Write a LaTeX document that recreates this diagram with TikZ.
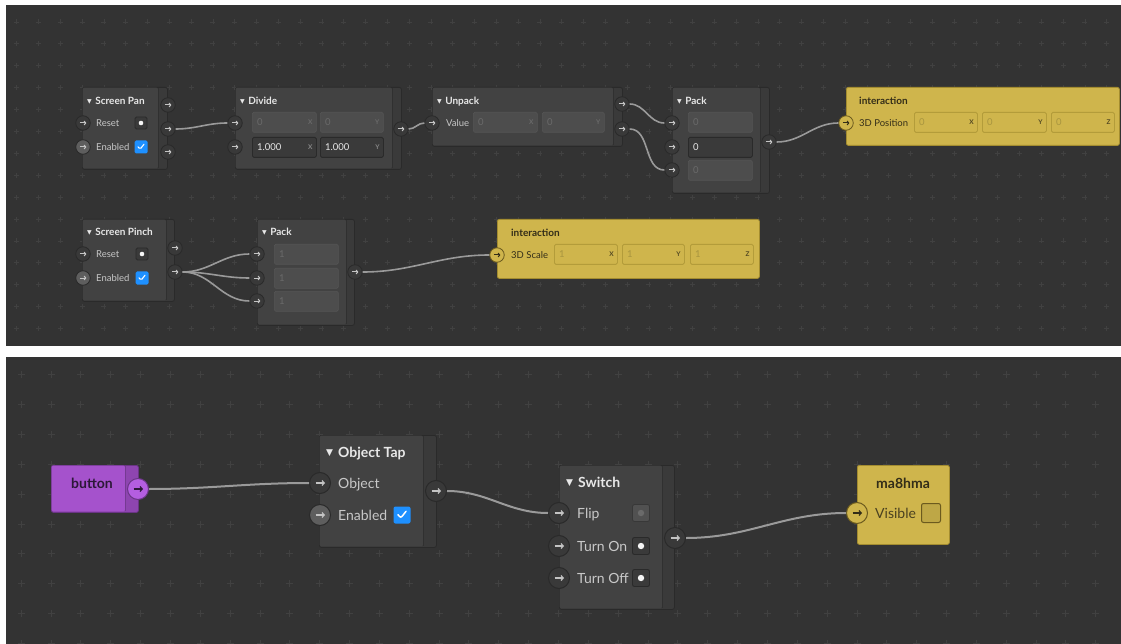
\documentclass[tikz,border=0pt]{standalone}
\usepackage{fontspec}
\setmainfont{Lato}
\newfontfamily\dejavu{DejaVu Sans}
\usetikzlibrary{arrows.meta}
\definecolor{bgc}{HTML}{333333}
\definecolor{plusc}{HTML}{414141}
\definecolor{nodec}{HTML}{424242}
\definecolor{stripc}{HTML}{3A3A3A}
\definecolor{borderc}{HTML}{2A2A2A}
\definecolor{portc}{HTML}{393939}
\definecolor{portlc}{HTML}{5E5E5E}
\definecolor{arrc}{HTML}{C4C4C4}
\definecolor{labc}{HTML}{C8C8C8}
\definecolor{ttlc}{HTML}{E8E8E8}
\definecolor{dimc}{HTML}{6A6A6A}
\definecolor{wirec}{HTML}{9A9A9A}
\definecolor{yelc}{HTML}{CFB54C}
\definecolor{yelbc}{HTML}{A38C30}
\definecolor{yelfb}{HTML}{B39C3A}
\definecolor{yeltc}{HTML}{332D18}
\definecolor{yeldim}{HTML}{A8953F}
\definecolor{yelport}{HTML}{6B5A1E}
\definecolor{purc}{HTML}{A552CC}
\definecolor{purdc}{HTML}{8E45B0}
\definecolor{purbc}{HTML}{6A3585}
\definecolor{purpc}{HTML}{B45EE0}
\definecolor{purtc}{HTML}{2C1838}
\definecolor{blc}{HTML}{1E90FF}
\tikzset{
  fsmall/.style={font=\fontsize{9.5}{11}\selectfont},
  flarge/.style={font=\fontsize{14}{16}\selectfont},
  lbls/.style={anchor=west, inner sep=0pt, text=labc, fsmall, text height=8.8pt, text depth=2pt},
  lbll/.style={anchor=west, inner sep=0pt, text=labc, flarge, text height=12pt, text depth=2pt},
  ttls/.style={anchor=west, inner sep=0pt, text=ttlc, font=\fontsize{10}{12}\selectfont\bfseries, text height=9pt, text depth=2pt},
  ttll/.style={anchor=west, inner sep=0pt, text=ttlc, font=\fontsize{14}{16}\selectfont\bfseries, text height=12pt, text depth=2pt},
  outerbox/.style={draw=borderc, fill=stripc, rounded corners=2pt, line width=0.8pt, inner sep=0pt, anchor=north west},
  yelbox/.style={draw=yelbc, fill=yelc, rounded corners=2pt, line width=0.8pt, inner sep=0pt, anchor=north west},
  portS/.style n args={3}{circle, minimum size=14.5pt, inner sep=0pt, fill=#1, draw=#2, line width=0.8pt,
    path picture={\draw[#3, line width=1pt, -{Straight Barb[length=1.7pt, width=4pt]}]
      ([xshift=-3.2pt]path picture bounding box.center) -- ([xshift=3.4pt]path picture bounding box.center);}},
  portL/.style n args={3}{circle, minimum size=21pt, inner sep=0pt, fill=#1, draw=#2, line width=1pt,
    path picture={\draw[#3, line width=1.2pt, -{Straight Barb[length=2.2pt, width=5pt]}]
      ([xshift=-4.5pt]path picture bounding box.center) -- ([xshift=5pt]path picture bounding box.center);}},
  chks/.style={minimum size=13pt, inner sep=0pt, fill=blc, rounded corners=1.5pt,
    path picture={\draw[white, line width=1.1pt, line cap=round, line join=round]
      ([shift={(-3pt,0.2pt)}]path picture bounding box.center) -- ([shift={(-0.9pt,-2.3pt)}]path picture bounding box.center) -- ([shift={(3pt,2.8pt)}]path picture bounding box.center);}},
  chkl/.style={minimum size=17pt, inner sep=0pt, fill=blc, rounded corners=2pt,
    path picture={\draw[white, line width=1.5pt, line cap=round, line join=round]
      ([shift={(-4pt,0.3pt)}]path picture bounding box.center) -- ([shift={(-1.2pt,-3pt)}]path picture bounding box.center) -- ([shift={(4pt,3.7pt)}]path picture bounding box.center);}},
  btns/.style={minimum size=12pt, inner sep=0pt, fill=stripc, draw=borderc, line width=0.8pt, rounded corners=1.5pt,
    path picture={\fill[white!92!gray] (path picture bounding box.center) circle (2.3pt);}},
  btnl/.style={minimum size=17pt, inner sep=0pt, fill=stripc, draw=borderc, line width=0.9pt, rounded corners=2pt,
    path picture={\fill[white!92!gray] (path picture bounding box.center) circle (3.2pt);}},
  btnd/.style={minimum size=17pt, inner sep=0pt, fill=nodec!92!white, draw=nodec!85!black, line width=0.8pt, rounded corners=2pt,
    path picture={\fill[dimc] (path picture bounding box.center) circle (3.2pt);}},
  ychk/.style={minimum size=19pt, inner sep=0pt, fill=yelc!92!black, draw=yelport, line width=1pt, rounded corners=2pt},
  fdim/.style={draw=nodec!90!white, fill=nodec!94!white, rounded corners=1.5pt, line width=0.6pt, inner sep=0pt, anchor=north west},
  fdimtxt/.style={anchor=west, inner sep=0pt, text=dimc, fsmall},
  fdimax/.style={anchor=east, inner sep=0pt, text=dimc, font=\fontsize{6.5}{7}\selectfont\bfseries},
  fact/.style={draw=borderc, fill=stripc, rounded corners=1.5pt, line width=0.8pt, inner sep=0pt, anchor=north west},
  facttxt/.style={anchor=west, inner sep=0pt, text=ttlc, fsmall},
  factax/.style={anchor=east, inner sep=0pt, text=dimc!80!white, font=\fontsize{6.5}{7}\selectfont\bfseries},
  fyel/.style={draw=yelfb, fill=yelc, rounded corners=1.5pt, line width=0.8pt, inner sep=0pt, anchor=north west},
  fyeltxt/.style={anchor=west, inner sep=0pt, text=yeldim, fsmall},
  fyelax/.style={anchor=east, inner sep=0pt, text=yeltc!80!yelc, font=\fontsize{6.5}{7}\selectfont\bfseries},
  wire/.style={draw=wirec, line width=1.6pt},
  wirel/.style={draw=wirec, line width=2pt},
}
\newcommand\gbox[6]{%
  \pgfmathsetmacro\gbW{#5-#2}\pgfmathsetmacro\gbH{#6-#3}%
  \node[outerbox, minimum width=\gbW pt, minimum height=\gbH pt] (#1) at (#2,#3) {};%
  \fill[nodec, rounded corners=1.5pt] (#2+0.6,#3+0.6) rectangle (#4,#6-0.6);%
  \draw[borderc!60!stripc, line width=0.6pt] (#4,#3+0.6) -- (#4,#6-0.6);%
}
\newcommand\fld[8]{%
  \pgfmathsetmacro\fdW{#5-#3}\pgfmathsetmacro\fdH{#6-#4}%
  \node[#1, minimum width=\fdW pt, minimum height=\fdH pt] (#2) at (#3,#4) {};%
  \node[#1txt] at ([xshift=5pt]#2.west) {#7};%
  \node[#1ax] at ([xshift=-4pt]#2.east) {#8};%
}
\newcommand\tris{{\dejavu\fontsize{6}{6}\selectfont\raisebox{1pt}{▼}}\hspace{3.5pt}}
\newcommand\tril{{\dejavu\fontsize{9}{9}\selectfont\raisebox{1.5pt}{▼}}\hspace{5pt}}
\begin{document}
\begin{tikzpicture}[x=1pt, y=-1pt]
\useasboundingbox (0,0) rectangle (1121,644);
\fill[white] (0,0) rectangle (1121,644);
% panels
\fill[bgc] (6,5) rectangle (1121,346);
\fill[bgc] (6,357) rectangle (1121,644);
\begin{scope}
  \clip (6,5) rectangle (1121,346);
  \foreach \i in {0,...,50} \foreach \j in {0,...,14}
    \draw[plusc, line width=0.8pt] (16.7+\i*21.8-2.5, 22+\j*21.9) -- ++(5,0) (16.7+\i*21.8, 22+\j*21.9-2.5) -- ++(0,5);
\end{scope}
\begin{scope}
  \clip (6,357) rectangle (1121,644);
  \foreach \i in {0,...,36} \foreach \j in {0,...,9}
    \draw[plusc, line width=1pt] (21.2+\i*29.85-3.5, 374.5+\j*29.9) -- ++(7,0) (21.2+\i*29.85, 374.5+\j*29.9-3.5) -- ++(0,7);
\end{scope}

% ---------- Screen Pan
\gbox{sp}{82}{87}{158}{167}{169}
\node[ttls] (sp-t) at (87,101) {\tris Screen Pan};
\node[lbls] (sp-l1) at (96,123) {Reset};
\node[lbls] (sp-l2) at (96,147) {Enabled};
\node[btns] (sp-b) at (141,123) {};
\node[chks] (sp-c) at (141,147) {};
\node[portS={portc}{borderc}{arrc}] (sp-i1) at (83,123) {};
\node[portS={portlc}{borderc}{arrc}] (sp-i2) at (83,147) {};
\node[portS={portc}{borderc}{arrc}] (sp-o1) at (168,105) {};
\node[portS={portc}{borderc}{arrc}] (sp-o2) at (168,129) {};
\node[portS={portc}{borderc}{arrc}] (sp-o3) at (168,152) {};

% ---------- Divide
\gbox{dv}{235}{87}{392}{401}{169}
\node[ttls] (dv-t) at (240,101) {\tris Divide};
\fld{fdim}{dv-f1}{252}{112}{316}{132}{0}{X}
\fld{fdim}{dv-f2}{320}{112}{383}{132}{0}{Y}
\fld{fact}{dv-f3}{252}{137}{316}{157}{1.000}{X}
\fld{fact}{dv-f4}{320}{137}{383}{157}{1.000}{Y}
\node[portS={portc}{borderc}{arrc}] (dv-i1) at (235,123) {};
\node[portS={portc}{borderc}{arrc}] (dv-i2) at (235,147) {};
\node[portS={portc}{borderc}{arrc}] (dv-o) at (401,129) {};

% ---------- Unpack
\gbox{up}{432}{87}{613}{622}{146}
\node[ttls] (up-t) at (437,101) {\tris Unpack};
\node[lbls] (up-l) at (446,123) {Value};
\fld{fdim}{up-f1}{473}{112}{537}{132}{0}{X}
\fld{fdim}{up-f2}{542}{112}{604}{132}{0}{Y}
\node[portS={portc}{borderc}{arrc}] (up-i) at (432,123) {};
\node[portS={portc}{borderc}{arrc}] (up-o1) at (622,104) {};
\node[portS={portc}{borderc}{arrc}] (up-o2) at (622,129) {};

% ---------- Pack (top)
\gbox{pk}{672}{87}{760}{769}{193}
\node[ttls] (pk-t) at (677,101) {\tris Pack};
\fld{fdim}{pk-f1}{688}{112}{752}{132}{0}{}
\fld{fact}{pk-f2}{688}{137}{752}{157}{0}{}
\fld{fdim}{pk-f3}{688}{160}{752}{180}{0}{}
\node[portS={portc}{borderc}{arrc}] (pk-i1) at (672,123) {};
\node[portS={portc}{borderc}{arrc}] (pk-i2) at (672,147) {};
\node[portS={portc}{borderc}{arrc}] (pk-i3) at (672,170) {};
\node[portS={portc}{borderc}{arrc}] (pk-o) at (769,142) {};

% ---------- interaction (3D Position)
\node[yelbox, minimum width=273pt, minimum height=58pt] (it) at (846,87) {};
\node[ttls, text=yeltc] (it-t) at (859,101) {interaction};
\node[lbls, text=yeltc] (it-l) at (859,123) {3D Position};
\fld{fyel}{it-f1}{914}{112}{977}{132}{0}{X}
\fld{fyel}{it-f2}{982}{112}{1046}{132}{0}{Y}
\fld{fyel}{it-f3}{1051}{112}{1114}{132}{0}{Z}
\node[portS={yelc}{yelport}{yeltc}] (it-i) at (846,123) {};

% ---------- Screen Pinch
\gbox{spi}{82}{219}{166}{174}{301}
\node[ttls] (spi-t) at (87,232) {\tris Screen Pinch};
\node[lbls] (spi-l1) at (96,254) {Reset};
\node[lbls] (spi-l2) at (96,278) {Enabled};
\node[btns] (spi-b) at (142,254) {};
\node[chks] (spi-c) at (142,278) {};
\node[portS={portc}{borderc}{arrc}] (spi-i1) at (83,254) {};
\node[portS={portlc}{borderc}{arrc}] (spi-i2) at (83,278) {};
\node[portS={portc}{borderc}{arrc}] (spi-o1) at (175,248) {};
\node[portS={portc}{borderc}{arrc}] (spi-o2) at (175,272) {};

% ---------- Pack (bottom)
\gbox{pk2}{257}{219}{346}{354}{325}
\node[ttls] (pk2-t) at (262,232) {\tris Pack};
\fld{fdim}{pk2-f1}{274}{244}{338}{264}{1}{}
\fld{fdim}{pk2-f2}{274}{268}{338}{288}{1}{}
\fld{fdim}{pk2-f3}{274}{291}{338}{311}{1}{}
\node[portS={portc}{borderc}{arrc}] (pk2-i1) at (257,254) {};
\node[portS={portc}{borderc}{arrc}] (pk2-i2) at (257,278) {};
\node[portS={portc}{borderc}{arrc}] (pk2-i3) at (257,301) {};
\node[portS={portc}{borderc}{arrc}] (pk2-o) at (355,272) {};

% ---------- interaction (3D Scale)
\node[yelbox, minimum width=262pt, minimum height=59pt] (it2) at (497,219) {};
\node[ttls, text=yeltc] (it2-t) at (511,233) {interaction};
\node[lbls, text=yeltc] (it2-l) at (511,255) {3D Scale};
\fld{fyel}{it2-f1}{554}{244}{617}{264}{1}{X}
\fld{fyel}{it2-f2}{622}{244}{684}{264}{1}{Y}
\fld{fyel}{it2-f3}{690}{244}{753}{264}{1}{Z}
\node[portS={yelc}{yelport}{yeltc}] (it2-i) at (497,255) {};

% ---------- top wires
\draw[wire] (sp-o2.east) to[out=0,in=180] (dv-i1.west);
\draw[wire] (dv-o.east) to[out=0,in=180] (up-i.west);
\draw[wire] (up-o1.east) to[out=0,in=180] (pk-i1.west);
\draw[wire] (up-o2.east) to[out=0,in=180] (pk-i3.west);
\draw[wire] (pk-o.east) to[out=0,in=180] (it-i.west);
\draw[wire] (spi-o2.east) to[out=0,in=180] (pk2-i1.west);
\draw[wire] (spi-o2.east) to[out=0,in=180] (pk2-i2.west);
\draw[wire] (spi-o2.east) to[out=0,in=180] (pk2-i3.west);
\draw[wire] (pk2-o.east) to[out=0,in=180] (it2-i.west);

% ================= bottom panel
% button
\node[outerbox, draw=purbc, fill=purdc, minimum width=87pt, minimum height=47pt] (bt) at (51,465) {};
\fill[purc, rounded corners=1.5pt] (51.6,465.6) rectangle (125,511.4);
\draw[purbc!70!purdc, line width=0.6pt] (125,465.6) -- (125,511.4);
\node[ttll, anchor=center, text=purtc] (bt-t) at (92,483) {button};
\node[portL={purpc}{purbc}{purtc}] (bt-o) at (138,489) {};

% Object Tap
\gbox{ot}{319}{435}{423}{436}{547}
\node[ttll] (ot-t) at (326,452) {\tril Object Tap};
\node[lbll] (ot-l1) at (338,483) {Object};
\node[lbll] (ot-l2) at (338,515) {Enabled};
\node[chkl] (ot-c) at (402,515) {};
\node[portL={portc}{borderc}{arrc}] (ot-i1) at (320,483) {};
\node[portL={portlc}{borderc}{arrc}] (ot-i2) at (320,515) {};
\node[portL={portc}{borderc}{arrc}] (ot-o) at (436,491) {};

% Switch
\gbox{sw}{559}{465}{662}{674}{609}
\node[ttll] (sw-t) at (566,482) {\tril Switch};
\node[lbll] (sw-l1) at (577,513) {Flip};
\node[lbll] (sw-l2) at (577,546) {Turn On};
\node[lbll] (sw-l3) at (577,578) {Turn Off};
\node[btnd] (sw-b1) at (641,513) {};
\node[btnl] (sw-b2) at (641,546) {};
\node[btnl] (sw-b3) at (641,578) {};
\node[portL={portc}{borderc}{arrc}] (sw-i1) at (559,513) {};
\node[portL={portc}{borderc}{arrc}] (sw-i2) at (559,546) {};
\node[portL={portc}{borderc}{arrc}] (sw-i3) at (559,578) {};
\node[portL={portc}{borderc}{arrc}] (sw-o) at (675,538) {};

% ma8hma
\node[yelbox, minimum width=92pt, minimum height=79pt] (mh) at (857,465) {};
\node[ttll, anchor=center, text=yeltc] (mh-t) at (903,483) {ma8hma};
\node[lbll, text=yeltc!85!yelc] (mh-l) at (875,513) {Visible};
\node[ychk] (mh-c) at (931,513) {};
\node[portL={yelc}{yelport}{yeltc}] (mh-i) at (857,513) {};

% bottom wires
\draw[wirel] (bt-o.east) to[out=0,in=180] (ot-i1.west);
\draw[wirel] (ot-o.east) to[out=0,in=180] (sw-i1.west);
\draw[wirel] (sw-o.east) to[out=0,in=180] (mh-i.west);
\end{tikzpicture}
\end{document}
